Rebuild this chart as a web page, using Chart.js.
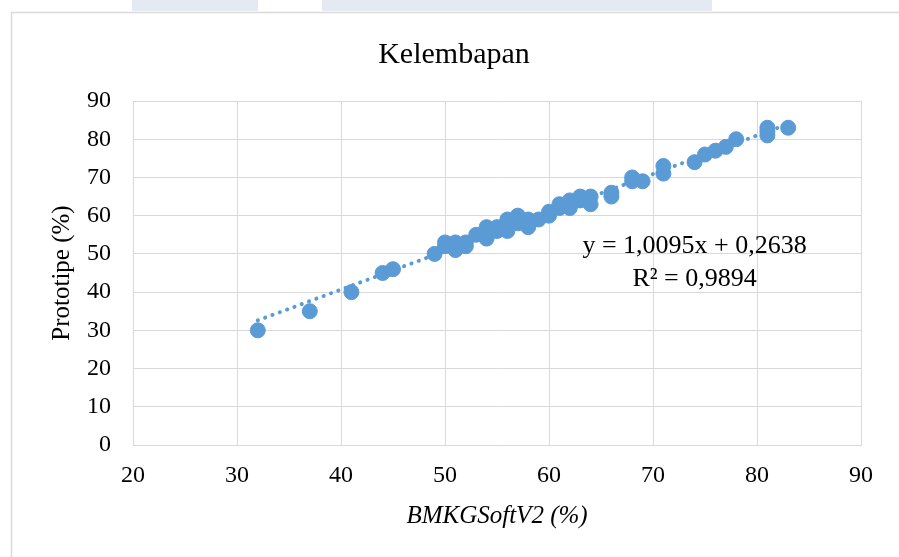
<!DOCTYPE html>
<html lang="id">
<head>
  <meta charset="UTF-8">
  <script src="https://cdn.jsdelivr.net/npm/chart.js"></script>
  <title>Kelembapan</title>
  <style>
    html, body { margin: 0; padding: 0; background: #fff; }
    #wrap { width: 899px; height: 557px; }
  </style>
</head>
<body>
  <div id="wrap">
    <canvas id="myChart" width="899" height="557"></canvas>
  </div>

<script>
// data: BMKGSoftV2 (x) vs Prototipe (y)
var bmkgX = [32, 37, 41, 44, 45, 49, 50, 50, 51, 51, 52, 52, 53, 54, 54, 55, 55, 56, 56, 57,
             57, 58, 58, 59, 60, 60, 61, 61, 62, 62, 63, 63, 64, 64, 66, 66, 68, 68, 69, 71,
             71, 74, 75, 76, 77, 78, 81, 81, 81, 83]
var protoY = [30, 35, 40, 45, 46, 50, 52, 53, 51, 53, 52, 53, 55, 54, 57, 56, 57, 56, 59, 58,
              60, 57, 59, 59, 60, 61, 62, 63, 62, 64, 64, 65, 63, 65, 65, 66, 69, 70, 69, 71,
              73, 74, 76, 77, 78, 80, 81, 82, 83, 83]

// trendline ends as seen on the chart
var trendX = [32, 83]
var trendY = [32.6, 84.0]

var xTicks = [20, 30, 40, 50, 60, 70, 80, 90]
var yTicks = [0, 10, 20, 30, 40, 50, 60, 70, 80, 90]

var eqText = ['y = 1,0095x + 0,2638', 'R\u00b2 = 0,9894']

var biru = '#5B9BD5'
var abu = '#d9d9d9'
var fonte = "'Liberation Serif', 'Times New Roman', serif"

var titik = bmkgX.map(function (x, i) { return { x: x, y: protoY[i] } })
var garis = trendX.map(function (x, i) { return { x: x, y: trendY[i] } })

// frame + faint shapes at the top of the page
const bingkai = {
  id: 'bingkai',
  beforeDraw(chart) {
    const ctx = chart.ctx
    ctx.save()
    ctx.fillStyle = '#fff'
    ctx.fillRect(0, 0, chart.width, chart.height)
    ctx.fillStyle = '#e5e9f1'
    ctx.fillRect(132, 0, 126, 11)
    ctx.fillRect(322, 0, 390, 11)
    ctx.strokeStyle = abu
    ctx.lineWidth = 1.5
    ctx.strokeRect(11.5, 12.5, chart.width + 20, chart.height + 20)
    ctx.restore()
  }
}

// equation label, anchored in data space
const persamaan = {
  id: 'persamaan',
  afterDatasetsDraw(chart) {
    const ctx = chart.ctx
    const sx = chart.scales.x, sy = chart.scales.y
    const cx = sx.getPixelForValue(74)
    ctx.save()
    ctx.font = '26px ' + fonte
    ctx.fillStyle = '#000'
    ctx.textAlign = 'center'
    ctx.textBaseline = 'middle'
    ctx.fillText(eqText[0], cx, sy.getPixelForValue(52))
    ctx.fillText(eqText[1], cx, sy.getPixelForValue(43.4))
    ctx.restore()
  }
}

const config = {
  type: 'scatter',
  data: {
    datasets: [{
      label: 'Prototipe',
      data: titik,
      backgroundColor: biru,
      borderColor: biru,
      pointRadius: 7.5,
      pointHoverRadius: 7.5,
      order: 2
    }, {
      type: 'line',
      label: 'Linear',
      data: garis,
      borderColor: biru,
      borderWidth: 4,
      borderDash: [0.1, 7.7],
      borderCapStyle: 'round',
      pointRadius: 0,
      fill: false,
      order: 1
    }]
  },
  options: {
    responsive: false,
    animation: false,
    events: [],
    layout: { padding: { left: 47, right: 38, top: 12, bottom: 26 } },
    plugins: {
      legend: { display: false },
      tooltip: { enabled: false },
      title: {
        display: true,
        text: 'Kelembapan',
        color: '#000',
        font: { family: fonte, size: 30, weight: 'normal' },
        padding: { top: 25, bottom: 28 }
      }
    },
    scales: {
      x: {
        type: 'linear',
        min: 20, max: 90,
        afterBuildTicks: function (s) { s.ticks = xTicks.map(function (v) { return { value: v } }) },
        afterFit: function (s) { s.height = 86 },
        grid: { color: abu, lineWidth: 1, drawTicks: false },
        border: { color: abu, width: 1 },
        ticks: { color: '#000', padding: 16, font: { family: fonte, size: 24 } },
        title: {
          display: true,
          text: 'BMKGSoftV2 (%)',
          color: '#000',
          font: { family: fonte, size: 25, style: 'italic' },
          padding: { top: 10, bottom: 0 }
        }
      },
      y: {
        type: 'linear',
        min: 0, max: 90,
        afterBuildTicks: function (s) { s.ticks = yTicks.map(function (v) { return { value: v } }) },
        afterFit: function (s) { s.width = 86 },
        grid: { color: abu, lineWidth: 1, drawTicks: false },
        border: { color: abu, width: 1 },
        ticks: { color: '#000', padding: 22, font: { family: fonte, size: 24 } },
        title: {
          display: true,
          text: 'Prototipe (%)',
          color: '#000',
          font: { family: fonte, size: 25 },
          padding: { top: 0, bottom: 0 }
        }
      }
    }
  },
  plugins: [bingkai, persamaan]
}

let myChart = new Chart(document.getElementById('myChart'), config)
</script>
</body>
</html>
